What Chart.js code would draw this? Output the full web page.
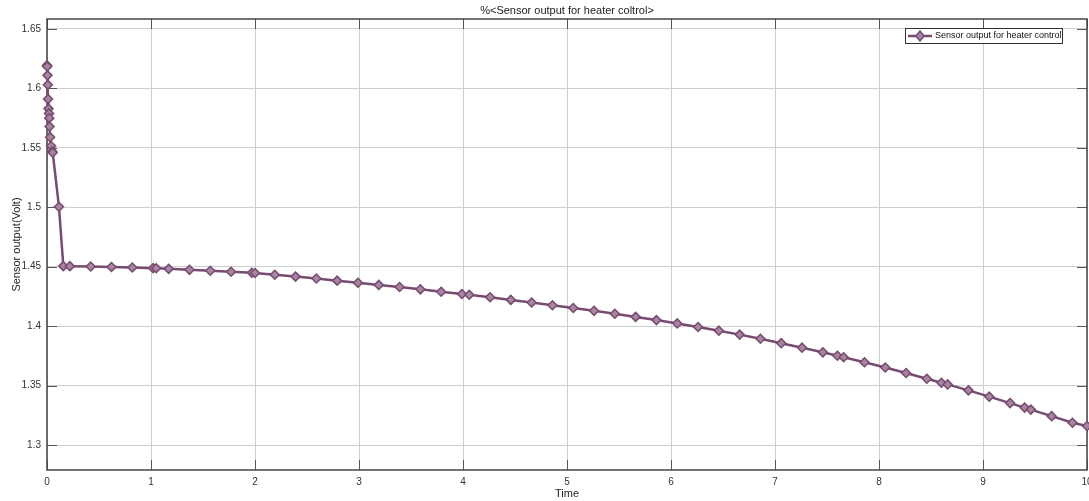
<!DOCTYPE html>
<html>
<head>
<meta charset="utf-8">
<script src="https://cdn.jsdelivr.net/npm/chart.js@4/dist/chart.umd.min.js"></script>
<style>
  html, body { margin: 0; padding: 0; background: #fff; }
  #wrap { width: 1089px; height: 501px; }
</style>
</head>
<body>
<div id="wrap"><canvas id="sensorChart" width="1089" height="501"></canvas></div>
<script>
// Datos
const chartTitle = '%<Sensor output for heater coltrol>';
const seriesName = 'Sensor output for heater control';
const timeValues = [
  0, 0.002, 0.005, 0.008, 0.01, 0.015, 0.02, 0.022, 0.025, 0.03, 0.04, 0.05, 0.055,
  0.115, 0.157, 0.22, 0.42, 0.62, 0.82, 1.02, 1.05, 1.17, 1.37, 1.57, 1.77, 1.97, 2.0,
  2.19, 2.39, 2.59, 2.79, 2.99, 3.19, 3.39, 3.59, 3.79, 3.99, 4.06, 4.26, 4.46, 4.66,
  4.86, 5.06, 5.26, 5.46, 5.66, 5.86, 6.06, 6.26, 6.46, 6.66, 6.86, 7.06, 7.26, 7.46,
  7.6, 7.66, 7.86, 8.06, 8.26, 8.46, 8.6, 8.66, 8.86, 9.06, 9.26, 9.4, 9.46, 9.66, 9.86, 10.0
];
const sensorValues = [
  1.6195, 1.6185, 1.611, 1.603, 1.591, 1.583, 1.579, 1.575, 1.568, 1.559, 1.5515, 1.547, 1.546,
  1.5005, 1.4505, 1.4505, 1.4502, 1.4498, 1.4494, 1.4488, 1.4487, 1.4482, 1.4474, 1.4466, 1.4458, 1.4449, 1.4447,
  1.4433, 1.4417, 1.4401, 1.4383, 1.4365, 1.4347, 1.4329, 1.431, 1.429, 1.4271, 1.4264, 1.4243, 1.4221, 1.4199,
  1.4176, 1.4153, 1.4129, 1.4104, 1.4078, 1.4051, 1.4023, 1.3993, 1.3962, 1.3929, 1.3894, 1.3857, 1.3819, 1.378,
  1.3751, 1.3738, 1.3696, 1.3652, 1.3606, 1.3558, 1.3524, 1.351, 1.346, 1.3407, 1.3353, 1.3315, 1.3298, 1.3243, 1.3187, 1.316
];
const xTicks = [0, 1, 2, 3, 4, 5, 6, 7, 8, 9, 10];
const yTicks = [1.3, 1.35, 1.4, 1.45, 1.5, 1.55, 1.6, 1.65];

const lineColor = '#774b70';
const markerFill = '#a7849f';
const fontName = '"Liberation Sans", Arial, sans-serif';

// Caja, marcas interiores, titulo y leyenda al estilo MATLAB
const matlabFrame = {
  id: 'matlabFrame',
  beforeDatasetsDraw(chart) {
    const ctx = chart.ctx;
    const a = chart.chartArea;
    const xs = chart.scales.x;
    const ys = chart.scales.y;
    ctx.save();
    // marcas interiores
    ctx.strokeStyle = '#555';
    ctx.lineWidth = 1;
    ctx.beginPath();
    yTicks.forEach(v => {
      const y = Math.round(ys.getPixelForValue(v)) + 0.5;
      ctx.moveTo(a.left, y); ctx.lineTo(a.left + 10, y);
      ctx.moveTo(a.right, y); ctx.lineTo(a.right - 10, y);
    });
    xTicks.forEach(v => {
      const x = Math.round(xs.getPixelForValue(v)) + 0.5;
      ctx.moveTo(x, a.bottom); ctx.lineTo(x, a.bottom - 10);
      ctx.moveTo(x, a.top); ctx.lineTo(x, a.top + 10);
    });
    ctx.stroke();
    // caja
    ctx.strokeStyle = '#444';
    ctx.lineWidth = 1.5;
    ctx.strokeRect(a.left, a.top, a.right - a.left, a.bottom - a.top);
    ctx.restore();
  },
  afterDraw(chart) {
    const ctx = chart.ctx;
    const a = chart.chartArea;
    ctx.save();
    // titulo
    ctx.fillStyle = '#222';
    ctx.font = '11px ' + fontName;
    ctx.textAlign = 'center';
    ctx.textBaseline = 'middle';
    ctx.fillText(chartTitle, (a.left + a.right) / 2, 11);
    // leyenda
    const lx = 905, ly = 28, lw = 157, lh = 15;
    ctx.fillStyle = '#fff';
    ctx.fillRect(lx, ly, lw, lh);
    ctx.strokeStyle = '#333';
    ctx.lineWidth = 1;
    ctx.strokeRect(lx + 0.5, ly + 0.5, lw, lh);
    const cy = ly + lh / 2 + 0.5;
    ctx.strokeStyle = lineColor;
    ctx.lineWidth = 2.5;
    ctx.beginPath();
    ctx.moveTo(908, cy); ctx.lineTo(932, cy);
    ctx.stroke();
    ctx.fillStyle = markerFill;
    ctx.lineWidth = 1.5;
    ctx.beginPath();
    ctx.moveTo(920, cy - 5); ctx.lineTo(924, cy); ctx.lineTo(920, cy + 5); ctx.lineTo(916, cy);
    ctx.closePath();
    ctx.fill(); ctx.stroke();
    ctx.fillStyle = '#111';
    ctx.font = '9px ' + fontName;
    ctx.textAlign = 'left';
    ctx.fillText(seriesName, 935, cy);
    ctx.restore();
  }
};

const chartData = timeValues.map((t, i) => ({ x: t, y: sensorValues[i] }));

new Chart(document.getElementById('sensorChart'), {
  type: 'line',
  data: {
    datasets: [{
      label: seriesName,
      data: chartData,
      borderColor: lineColor,
      borderWidth: 2.5,
      pointStyle: 'rectRot',
      pointRadius: 4.5,
      pointBorderWidth: 1.5,
      pointBorderColor: lineColor,
      pointBackgroundColor: markerFill,
      tension: 0,
      clip: false
    }]
  },
  options: {
    responsive: false,
    animation: false,
    layout: { autoPadding: false, padding: { top: 19, right: 2, left: 0, bottom: 0 } },
    plugins: {
      legend: { display: false },
      title: { display: false },
      tooltip: { enabled: false }
    },
    scales: {
      x: {
        type: 'linear',
        min: 0,
        max: 10,
        afterBuildTicks: s => { s.ticks = xTicks.map(v => ({ value: v })); },
        afterFit: s => { s.height = 31; s.paddingRight = 0; s.paddingLeft = 0; },
        grid: { color: '#cfcfcf', drawTicks: false },
        border: { display: false },
        ticks: { padding: 6, color: '#333', font: { family: fontName, size: 10 }, maxRotation: 0 },
        title: { display: true, text: 'Time', color: '#222', padding: { top: 0, bottom: 0 }, font: { family: fontName, size: 11 } }
      },
      y: {
        min: 1.279,
        max: 1.6584,
        afterBuildTicks: s => { s.ticks = yTicks.map(v => ({ value: v })); },
        afterFit: s => { s.width = 47; },
        grid: { color: '#cfcfcf', drawTicks: false },
        border: { display: false },
        ticks: {
          padding: 6,
          color: '#333',
          font: { family: fontName, size: 10 },
          callback: v => String(Math.round(v * 100) / 100)
        },
        title: { display: true, text: 'Sensor output(Volt)', color: '#222', padding: { top: 10, bottom: 0 }, font: { family: fontName, size: 11 } }
      }
    }
  },
  plugins: [matlabFrame]
});
</script>
</body>
</html>
